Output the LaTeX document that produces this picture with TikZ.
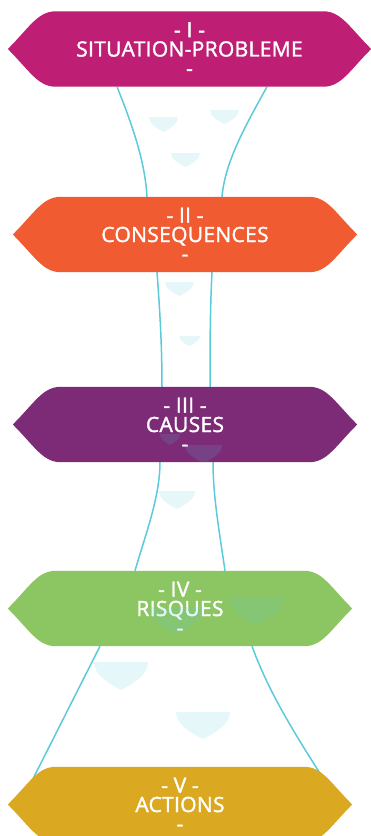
\documentclass[tikz,border=0pt]{standalone}
\usepackage{fontspec}
\setmainfont{Open Sans}
\newfontfamily\titrefont{Open Sans}[FakeBold=1.6,LetterSpace=1.5]
\usetikzlibrary{backgrounds}

\definecolor{magentaI}{HTML}{BE1F74}
\definecolor{orangeII}{HTML}{F15B31}
\definecolor{violetIII}{HTML}{7D2B77}
\definecolor{vertIV}{HTML}{8CC663}
\definecolor{orV}{HTML}{DBA921}
\definecolor{flux}{HTML}{5ACBDB}

\tikzset{
  titre/.style={text=white,font=\titrefont\fontsize{21}{19.3}\selectfont,align=center,
    minimum height=75pt,inner sep=0pt,execute at begin node=\rule{0pt}{26pt}},
  lien/.style={flux,line width=1.5pt},
  goutte/.style={fill=flux,fill opacity=0.15},
}

% banner drawn around a node (name, colour)
\newcommand{\banniere}[2]{%
  \fill[#2] (#1.north west) -- (#1.north east)
    .. controls +(18,0) and +(-22,-22) .. ([xshift=48]#1.east)
    .. controls +(-22,22) and +(18,0) .. (#1.south east)
    -- (#1.south west)
    .. controls +(-18,0) and +(22,22) .. ([xshift=-48]#1.west)
    .. controls +(22,-22) and +(-18,0) .. cycle;}

% drop: x, top y, width, height
\newcommand{\goutte}[4]{%
  \fill[goutte] ({#1-#3/2},#2) -- ({#1+#3/2},#2)
    .. controls ({#1+#3/2},{#2+0.45*#4}) and ({#1+0.25*#3},{#2+0.75*#4}) .. (#1,{#2+#4})
    .. controls ({#1-0.25*#3},{#2+0.75*#4}) and ({#1-#3/2},{#2+0.45*#4}) .. ({#1-#3/2},#2)
    -- cycle;}

\begin{document}
\begin{tikzpicture}[x=1pt,y=-1pt]
    \useasboundingbox (0,0) rectangle (371,836);
    %\draw[gray!30] (0,0) grid[step=50] (371,836);

    \node[titre,minimum width=267pt] (b1) at (189.5,49) {- I -\\SITUATION-PROBLEME\\-};
    \node[titre,minimum width=248pt] (b2) at (185,234.5) {- II -\\CONSEQUENCES\\-};
    \node[titre,minimum width=248pt] (b3) at (185,424.5) {- III -\\CAUSES\\-};
    \node[titre,minimum width=248pt] (b4) at (180,608.5) {- IV -\\RISQUES\\-};
    \node[titre,minimum width=248pt] (b5) at (180,804.5) {- V -\\ACTIONS\\-};

    \begin{scope}[on background layer]
        % liens
        \draw[lien] ([xshift=-72.5]b1.south) .. controls +(16,40) and +(-2,-35) .. ([xshift=-38]b2.north);
        \draw[lien] ([xshift=77.5]b1.south) .. controls +(-22,40) and +(3,-35) .. ([xshift=37]b2.north);
        \draw[lien] ([xshift=-28]b2.south) .. controls +(3,40) and +(0,-40) .. ([xshift=-23]b3.north);
        \draw[lien] ([xshift=27]b2.south) .. controls +(-2,40) and +(0,-40) .. ([xshift=25]b3.north);
        \draw[lien] ([xshift=-25]b3.south) .. controls +(0,35) and +(10,-35) .. ([xshift=-45]b4.north);
        \draw[lien] ([xshift=28]b3.south) .. controls +(0,35) and +(-5,-35) .. ([xshift=45]b4.north);
        \draw[lien] ([xshift=-80]b4.south) -- ([xshift=-160]b5.center);
        \draw[lien] ([xshift=72]b4.south) .. controls +(20,55) and +(-35,-55) .. ([xshift=160]b5.center);
        % bannieres
        \banniere{b1}{magentaI}
        \banniere{b2}{orangeII}
        \banniere{b3}{violetIII}
        \banniere{b4}{vertIV}
        \banniere{b5}{orV}
    \end{scope}

    % gouttes
    \goutte{163.5}{117}{29}{15}
    \goutte{224.5}{110}{29}{14}
    \goutte{185.5}{153}{29}{14}
    \goutte{179.5}{282}{29}{14}
    \goutte{189.5}{336}{21}{10}
    \goutte{170}{434}{20}{11}
    \goutte{203.5}{445}{37}{18}
    \goutte{177}{491}{36}{18}
    \goutte{176}{607}{54}{27}
    \goutte{256}{597}{54}{28}
    \goutte{121}{662}{54}{28}
    \goutte{203}{712}{54}{27}
\end{tikzpicture}
\end{document}
